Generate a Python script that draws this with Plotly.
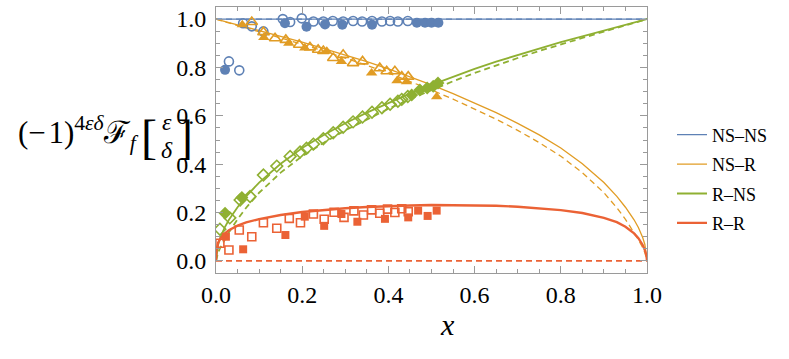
import plotly.graph_objects as go

# ---------------- data ----------------
BLUE = "#5E81B5"
ORANGE = "#E19C24"
GREEN = "#8FB032"
RED = "#EB6235"

curve_x = [0, 0.005, 0.01, 0.02, 0.03, 0.05, 0.07, 0.1, 0.15, 0.2, 0.25, 0.3, 0.35, 0.4, 0.45,
           0.5, 0.55, 0.6, 0.65, 0.7, 0.75, 0.8, 0.85, 0.9, 0.93, 0.95, 0.97, 0.98, 0.99, 0.995, 1.0]
nsns_solid = [1.0] * len(curve_x)
nsns_dash = [1.0] * len(curve_x)
nsr_solid = [1.000, 0.998, 0.995, 0.990, 0.985, 0.976, 0.966, 0.952, 0.929, 0.905, 0.879, 0.852, 0.824,
             0.794, 0.762, 0.728, 0.692, 0.654, 0.613, 0.569, 0.521, 0.467, 0.402, 0.324, 0.267, 0.222,
             0.170, 0.138, 0.097, 0.068, 0.0]
nsr_dash = [1.000, 0.998, 0.995, 0.989, 0.984, 0.974, 0.963, 0.948, 0.922, 0.896, 0.868, 0.839, 0.809,
            0.777, 0.743, 0.707, 0.669, 0.629, 0.586, 0.540, 0.489, 0.433, 0.365, 0.282, 0.220, 0.172,
            0.118, 0.088, 0.055, 0.035, 0.0]
rns_x = [0, 0.005, 0.01, 0.02, 0.03, 0.05, 0.07, 0.1, 0.15, 0.2, 0.25, 0.3, 0.35, 0.4, 0.45, 0.5,
         0.55, 0.6, 0.65, 0.7, 0.75, 0.8, 0.85, 0.9, 0.93, 0.95, 0.97, 0.98, 0.99, 0.995, 1.0]
rns_solid = [0.0, 0.068, 0.097, 0.138, 0.170, 0.222, 0.267, 0.324, 0.402, 0.467, 0.521, 0.569, 0.613,
             0.654, 0.692, 0.728, 0.762, 0.794, 0.824, 0.852, 0.879, 0.905, 0.929, 0.952, 0.966, 0.976,
             0.985, 0.990, 0.995, 0.998, 1.0]
rns_dash = [0.0, 0.035, 0.055, 0.088, 0.118, 0.172, 0.220, 0.282, 0.365, 0.433, 0.489, 0.540, 0.586,
            0.629, 0.669, 0.707, 0.743, 0.777, 0.809, 0.839, 0.868, 0.896, 0.922, 0.948, 0.963, 0.974,
            0.984, 0.989, 0.995, 0.998, 1.0]
rr_x = [0, 0.001, 0.005, 0.01, 0.02, 0.03, 0.05, 0.07, 0.1, 0.15, 0.2, 0.25, 0.3, 0.35, 0.4, 0.45, 0.5,
        0.55, 0.6, 0.65, 0.7, 0.75, 0.8, 0.85, 0.9, 0.93, 0.95, 0.97, 0.98, 0.99, 0.995, 0.999, 1.0]
rr_solid = [0.0, 0.04, 0.075, 0.092, 0.113, 0.127, 0.146, 0.159, 0.173, 0.190, 0.202, 0.211, 0.218,
            0.223, 0.227, 0.229, 0.231, 0.231, 0.230, 0.228, 0.224, 0.218, 0.210, 0.198, 0.178, 0.160,
            0.141, 0.114, 0.094, 0.066, 0.045, 0.02, 0.0]
rr_dash = [0.0] * len(rr_x)

# NS-NS points
nsns_open_x = [0.030, 0.054, 0.063, 0.083, 0.110, 0.155, 0.172, 0.199, 0.226, 0.249, 0.271, 0.295,
               0.318, 0.339, 0.362, 0.385, 0.404, 0.422, 0.445]
nsns_open_y = [0.825, 0.788, 0.983, 0.970, 0.949, 1.000, 0.988, 1.003, 0.990, 0.990, 0.992, 0.990,
               0.992, 0.990, 0.992, 0.990, 0.992, 0.990, 0.992]
nsns_fill_x = [0.021, 0.160, 0.210, 0.253, 0.293, 0.362, 0.466, 0.485, 0.500, 0.516]
nsns_fill_y = [0.790, 0.983, 0.968, 0.978, 0.977, 0.977, 0.985, 0.985, 0.985, 0.985]

# NS-R points
nsr_open_x = [0.083, 0.110, 0.137, 0.162, 0.193, 0.218, 0.237, 0.249, 0.272, 0.295, 0.318, 0.340,
              0.380, 0.396, 0.415, 0.431, 0.446]
nsr_open_y = [0.988, 0.946, 0.921, 0.914, 0.894, 0.883, 0.873, 0.868, 0.839, 0.852, 0.818, 0.825,
              0.797, 0.784, 0.784, 0.762, 0.762]
nsr_fill_x = [0.061, 0.111, 0.169, 0.206, 0.257, 0.291, 0.361, 0.420, 0.442, 0.490, 0.512]
nsr_fill_y = [0.977, 0.924, 0.900, 0.880, 0.867, 0.825, 0.777, 0.745, 0.741, 0.715, 0.679]

# R-NS points
rns_open_x = [0.009, 0.032, 0.056, 0.079, 0.110, 0.141, 0.172, 0.195, 0.210, 0.226, 0.249, 0.272,
              0.295, 0.318, 0.340, 0.362, 0.385, 0.404, 0.422, 0.431, 0.445]
rns_open_y = [0.131, 0.178, 0.252, 0.266, 0.355, 0.392, 0.432, 0.450, 0.466, 0.483, 0.505, 0.530,
              0.553, 0.575, 0.595, 0.615, 0.633, 0.648, 0.660, 0.668, 0.680]
rns_fill_x = [0.021, 0.060, 0.454, 0.473, 0.490, 0.504, 0.515]
rns_fill_y = [0.197, 0.262, 0.686, 0.707, 0.715, 0.722, 0.736]

# R-R points
rr_open_x = [0.009, 0.030, 0.054, 0.083, 0.110, 0.141, 0.170, 0.196, 0.226, 0.251, 0.274, 0.297,
             0.320, 0.342, 0.361, 0.380, 0.398, 0.415, 0.431, 0.446]
rr_open_y = [0.073, 0.045, 0.128, 0.100, 0.158, 0.135, 0.176, 0.158, 0.194, 0.172, 0.201, 0.180,
             0.207, 0.190, 0.211, 0.197, 0.214, 0.200, 0.216, 0.204]
rr_fill_x = [0.023, 0.063, 0.161, 0.206, 0.251, 0.291, 0.328, 0.392, 0.446, 0.469, 0.491, 0.512]
rr_fill_y = [0.100, 0.048, 0.107, 0.183, 0.145, 0.194, 0.162, 0.174, 0.180, 0.208, 0.186, 0.208]

legend_names = ["NS\u2013NS", "NS\u2013R", "R\u2013NS", "R\u2013R"]
x_ticks = [0, 0.2, 0.4, 0.6, 0.8, 1.0]
y_ticks = [0, 0.2, 0.4, 0.6, 0.8, 1.0]

# ---------------- figure ----------------
SERIF = "Liberation Serif, serif"
fig = go.Figure()

def line(x, y, color, width, dash, name=None, legend=False, group=None):
    fig.add_trace(go.Scatter(x=x, y=y, mode="lines", name=name, showlegend=legend,
                             legendgroup=group,
                             line=dict(color=color, width=width, dash=dash),
                             hoverinfo="skip"))

line(curve_x, nsns_dash, BLUE, 1.3, "6px,4px")
line(curve_x, nsr_dash, ORANGE, 1.3, "6px,4px")
line(rns_x, rns_dash, GREEN, 1.8, "6px,4px")
line(rr_x, rr_dash, RED, 1.8, "6px,4px")
line(curve_x, nsns_solid, BLUE, 1.2, "solid", legend_names[0], True, "a")
line(curve_x, nsr_solid, ORANGE, 1.3, "solid", legend_names[1], True, "b")
line(rns_x, rns_solid, GREEN, 1.8, "solid", legend_names[2], True, "c")
line(rr_x, rr_solid, RED, 2.4, "solid", legend_names[3], True, "d")

def pts(x, y, color, symbol, size, open_):
    if open_:
        m = dict(color=color, symbol=symbol + "-open", size=size, line=dict(color=color, width=1.6))
    else:
        m = dict(color=color, symbol=symbol, size=size, line=dict(width=0))
    fig.add_trace(go.Scatter(x=x, y=y, mode="markers", marker=m, showlegend=False, hoverinfo="skip"))

pts(nsns_open_x, nsns_open_y, BLUE, "circle", 9, True)
pts(nsns_fill_x, nsns_fill_y, BLUE, "circle", 10, False)
pts(nsr_open_x, nsr_open_y, ORANGE, "triangle-up", 10, True)
pts(nsr_fill_x, nsr_fill_y, ORANGE, "triangle-up", 10, False)
pts(rns_open_x, rns_open_y, GREEN, "diamond", 9, True)
pts(rns_fill_x, rns_fill_y, GREEN, "diamond", 10, False)
pts(rr_open_x, rr_open_y, RED, "square", 8, True)
pts(rr_fill_x, rr_fill_y, RED, "square", 8, False)

FRAME = "#9a9a9a"
axis_common = dict(showline=True, linecolor=FRAME, linewidth=1, mirror="ticks",
                   ticks="inside", ticklen=7, tickcolor=FRAME, tickwidth=1,
                   showgrid=False, zeroline=False, tickformat=".1f",
                   tickfont=dict(family=SERIF, size=24, color="black"),
                   minor=dict(dtick=0.05, ticks="inside", ticklen=4, tickcolor=FRAME, tickwidth=1,
                              showgrid=False))
fig.update_xaxes(range=[0, 1], tickvals=x_ticks, ticklabelstandoff=0, **axis_common)
fig.update_yaxes(range=[-0.05, 1.05], tickvals=y_ticks, ticklabelstandoff=4, **axis_common)

L, R, T, B = 216, 142, 7, 86
PW, PH = 789 - L - R, 359 - T - B

def px(xp):
    return (xp - L) / PW

def py(yp):
    return (359 - B - yp) / PH

ann = []
def text(t, xp, yp, size, xanchor="center", yanchor="middle"):
    ann.append(dict(text=t, x=px(xp), y=py(yp), xref="paper", yref="paper", showarrow=False,
                    xanchor=xanchor, yanchor=yanchor,
                    font=dict(family=SERIF, size=size, color="black")))

text("<i>x</i>", 447, 324, 30)
text("(\u2212\u200a1)<sup>4<i>\u03b5\u03b4</i></sup>\u2131<sub><i>f</i></sub>", 141, 133, 31,
     xanchor="right")
text("[", 149, 136, 48)
text("<i>\u03b5</i>", 167, 122, 24)
text("<i>\u03b4</i>", 167, 150, 24)
text("]", 185, 136, 48)

fig.update_layout(
    width=789, height=359,
    margin=dict(l=L, r=R, t=T, b=B, autoexpand=False),
    plot_bgcolor="white", paper_bgcolor="white",
    annotations=ann,
    legend=dict(x=px(672), y=py(179), xanchor="left", yanchor="middle",
                traceorder="grouped", tracegroupgap=3,
                font=dict(family=SERIF, size=18, color="black"),
                bgcolor="rgba(0,0,0,0)"),
)

fig.write_html("out.html", config={"displayModeBar": False},
               post_script="document.body.style.margin='0';document.body.style.padding='0';")
